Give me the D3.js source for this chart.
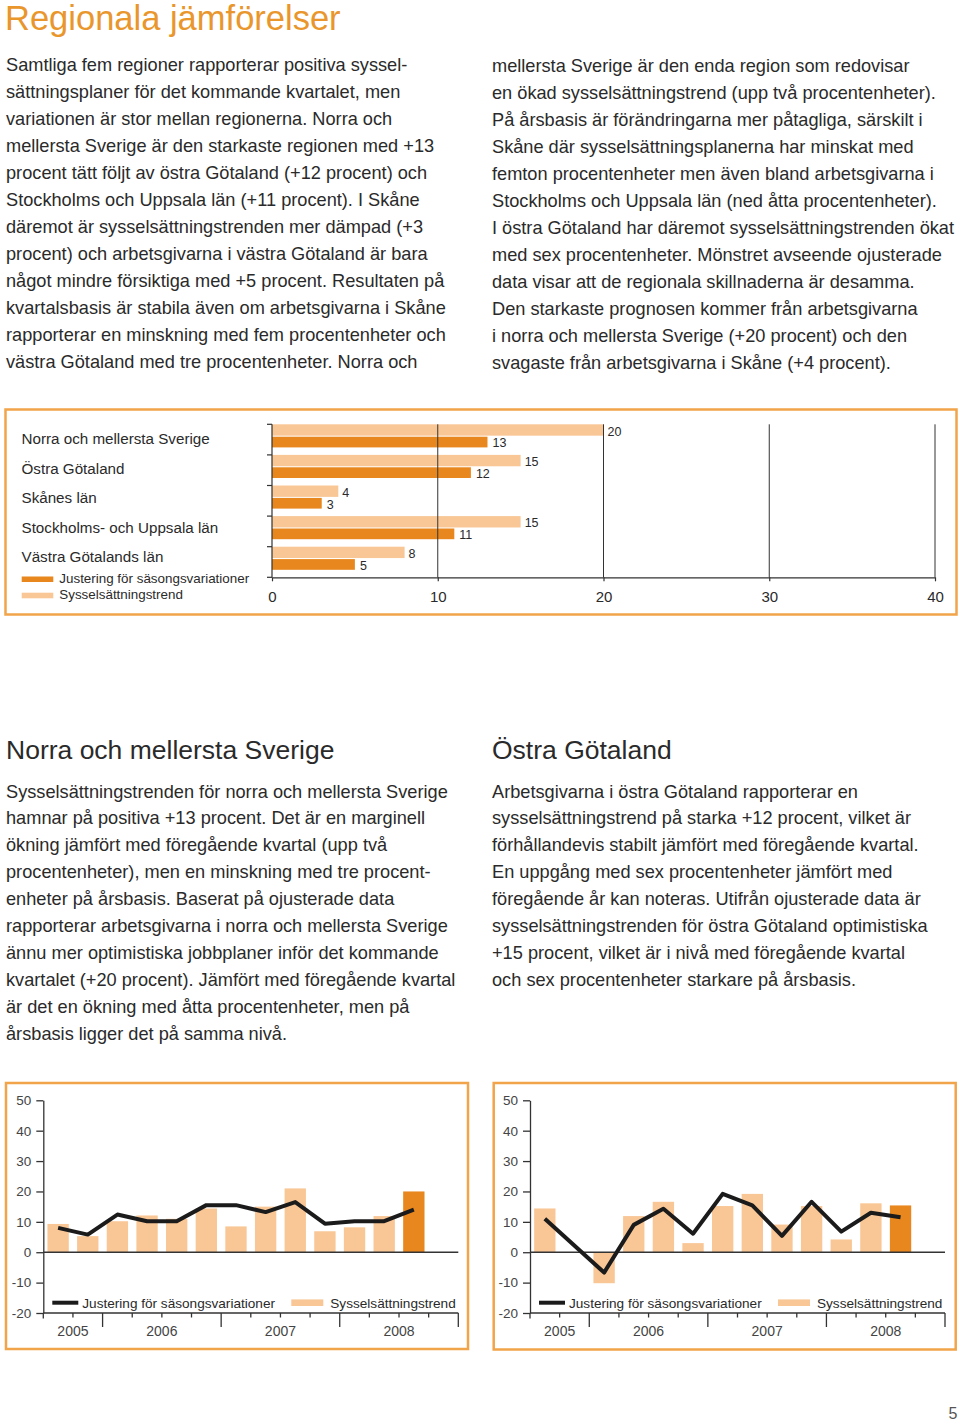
<!DOCTYPE html>
<html><head><meta charset="utf-8">
<script src="https://cdn.jsdelivr.net/npm/d3@7"></script>
<style>html,body{margin:0;padding:0;background:#fff}svg{display:block}</style>
</head><body>
<script>
// ---------- data ----------
const regions = ["Norra och mellersta Sverige", "Östra Götaland", "Skånes län", "Stockholms- och Uppsala län", "Västra Götalands län"];
const regionTrend = [20, 15, 4, 15, 8];
const regionAdjusted = [13, 12, 3, 11, 5];
const regionTicks = [0, 10, 20, 30, 40];

const quarters = ["2005K3","2005K4","2006K1","2006K2","2006K3","2006K4","2007K1","2007K2","2007K3","2007K4","2008K1","2008K2","2008K3","2008K4"];
const years = ["2005", "2006", "2007", "2008"];
const norraTrend    = [9.3, 5.3, 10.2, 12.1, 11, 14.4, 8.5, 15, 21, 6.9, 8.2, 11.9, 20];
const norraAdjusted = [8, 5.8, 12.4, 10.2, 10.2, 15.5, 15.5, 13.2, 16.5, 9.4, 10.2, 10.2, 14];
const ostraTrend    = [14.4, null, -10.2, 11.9, 16.6, 3, 15.2, 19.2, 9.1, 15.2, 4.2, 16.1, 15.4];
const ostraAdjusted = [11, null, -6.7, 9, 14.3, 6.1, 19.2, 15.4, 5.4, 16.6, 6.8, 13, 11.5];
const lineTicks = [50, 40, 30, 20, 10, 0, -10, -20];

const legendAdjusted = "Justering för säsongsvariationer";
const legendTrend = "Sysselsättningstrend";

const pageTitle = "Regionala jämförelser";
const introLeft = [
  "Samtliga fem regioner rapporterar positiva syssel-",
  "sättningsplaner för det kommande kvartalet, men",
  "variationen är stor mellan regionerna. Norra och",
  "mellersta Sverige är den starkaste regionen med +13",
  "procent tätt följt av östra Götaland (+12 procent) och",
  "Stockholms och Uppsala län (+11 procent). I Skåne",
  "däremot är sysselsättningstrenden mer dämpad (+3",
  "procent) och arbetsgivarna i västra Götaland är bara",
  "något mindre försiktiga med +5 procent. Resultaten på",
  "kvartalsbasis är stabila även om arbetsgivarna i Skåne",
  "rapporterar en minskning med fem procentenheter och",
  "västra Götaland med tre procentenheter. Norra och"
];
const introRight = [
  "mellersta Sverige är den enda region som redovisar",
  "en ökad sysselsättningstrend (upp två procentenheter).",
  "På årsbasis är förändringarna mer påtagliga, särskilt i",
  "Skåne där sysselsättningsplanerna har minskat med",
  "femton procentenheter men även bland arbetsgivarna i",
  "Stockholms och Uppsala län (ned åtta procentenheter).",
  "I östra Götaland har däremot sysselsättningstrenden ökat",
  "med sex procentenheter. Mönstret avseende ojusterade",
  "data visar att de regionala skillnaderna är desamma.",
  "Den starkaste prognosen kommer från arbetsgivarna",
  "i norra och mellersta Sverige (+20 procent) och den",
  "svagaste från arbetsgivarna i Skåne (+4 procent)."
];
const norraTitle = "Norra och mellersta Sverige";
const norraText = [
  "Sysselsättningstrenden för norra och mellersta Sverige",
  "hamnar på positiva +13 procent. Det är en marginell",
  "ökning jämfört med föregående kvartal (upp två",
  "procentenheter), men en minskning med tre procent-",
  "enheter på årsbasis. Baserat på ojusterade data",
  "rapporterar arbetsgivarna i norra och mellersta Sverige",
  "ännu mer optimistiska jobbplaner inför det kommande",
  "kvartalet (+20 procent). Jämfört med föregående kvartal",
  "är det en ökning med åtta procentenheter, men på",
  "årsbasis ligger det på samma nivå."
];
const ostraTitle = "Östra Götaland";
const ostraText = [
  "Arbetsgivarna i östra Götaland rapporterar en",
  "sysselsättningstrend på starka +12 procent, vilket är",
  "förhållandevis stabilt jämfört med föregående kvartal.",
  "En uppgång med sex procentenheter jämfört med",
  "föregående år kan noteras. Utifrån ojusterade data är",
  "sysselsättningstrenden för östra Götaland optimistiska",
  "+15 procent, vilket är i nivå med föregående kvartal",
  "och sex procentenheter starkare på årsbasis."
];
const pageNumber = "5";

// ---------- style ----------
const FONT = "'Liberation Sans', Arial, Helvetica, sans-serif";
const C = {
  title: "#E9962C", text: "#2a2a2a", border: "#F1A449",
  light: "#F9C796", dark: "#E8871E", line: "#1b1b1b", axis: "#333"
};

const svg = d3.select("body").append("svg")
  .attr("width", 960).attr("height", 1421)
  .style("font-family", FONT);
svg.append("rect").attr("width", 960).attr("height", 1421).attr("fill", "#fff");

// ---------- text blocks ----------
svg.append("text").attr("x", 5).attr("y", 30).attr("font-size", 34.5)
  .attr("fill", C.title).text(pageTitle);

function para(lines, x, y0, lh, size) {
  svg.append("g").selectAll("text").data(lines).join("text")
    .attr("x", x).attr("y", (d, i) => y0 + i * lh)
    .attr("font-size", size).attr("fill", C.text).text(d => d);
}
para(introLeft, 6, 71, 27, 18.2);
para(introRight, 492, 71.5, 27, 18.2);
svg.append("text").attr("x", 6).attr("y", 759).attr("font-size", 26.5).attr("fill", C.text).text(norraTitle);
svg.append("text").attr("x", 492).attr("y", 759).attr("font-size", 26.5).attr("fill", C.text).text(ostraTitle);
para(norraText, 6, 797.5, 26.9, 18.2);
para(ostraText, 492, 797.5, 26.9, 18.2);
svg.append("text").attr("x", 953).attr("y", 1419).attr("text-anchor", "middle")
  .attr("font-size", 16).attr("fill", "#555").text(pageNumber);

// ---------- horizontal bar chart ----------
(function () {
  svg.append("rect").attr("x", 5.5).attr("y", 409.5).attr("width", 951).attr("height", 205)
    .attr("fill", "none").attr("stroke", C.border).attr("stroke-width", 2.5);
  const g = svg.append("g");
  const x = d3.scaleLinear().domain([0, 40]).range([272, 935]);
  const y = d3.scaleBand().domain(regions).range([424.3, 577.3]);
  const s = y.step();
  const rows = regions.map((r, i) => ({ r, t: regionTrend[i], a: regionAdjusted[i] }));

  g.selectAll("rect.t").data(rows).join("rect")
    .attr("x", x(0)).attr("y", d => y(d.r)).attr("width", d => x(d.t) - x(0)).attr("height", s * 0.372)
    .attr("fill", C.light);
  g.selectAll("rect.a").data(rows).join("rect")
    .attr("x", x(0)).attr("y", d => y(d.r) + s * 0.405).attr("width", d => x(d.a) - x(0)).attr("height", s * 0.35)
    .attr("fill", C.dark);

  // grid lines
  g.selectAll("line.grid").data(regionTicks.filter(t => t > 0)).join("line")
    .attr("x1", d => x(d)).attr("x2", d => x(d)).attr("y1", y.range()[0]).attr("y2", y.range()[1])
    .attr("stroke", C.axis).attr("stroke-width", 1);

  // value labels
  g.selectAll("text.t").data(rows).join("text")
    .attr("x", d => x(d.t) + 4).attr("y", d => y(d.r) + s * 0.372)
    .attr("font-size", 12.5).attr("fill", C.text).text(d => d.t);
  g.selectAll("text.a").data(rows).join("text")
    .attr("x", d => x(d.a) + 5).attr("y", d => y(d.r) + s * 0.755)
    .attr("font-size", 12.5).attr("fill", C.text).text(d => d.a);

  // y axis with band boundary ticks
  const bounds = regions.map(r => y(r)).concat([y.range()[1]]);
  g.append("line").attr("x1", x(0)).attr("x2", x(0)).attr("y1", y.range()[0]).attr("y2", y.range()[1])
    .attr("stroke", C.axis).attr("stroke-width", 1.2);
  g.selectAll("line.yt").data(bounds).join("line")
    .attr("x1", x(0) - 5).attr("x2", x(0)).attr("y1", d => d).attr("y2", d => d)
    .attr("stroke", C.axis).attr("stroke-width", 1.2);

  // x axis
  const xa = g.append("g").attr("transform", `translate(0,${y.range()[1]})`)
    .call(d3.axisBottom(x).tickValues(regionTicks).tickSize(4).tickSizeOuter(0).tickPadding(10).tickFormat(d => d));
  xa.selectAll("path,line").attr("stroke", C.axis).attr("stroke-width", 1.2);
  xa.selectAll("text").attr("font-size", 15).attr("fill", C.text).attr("font-family", FONT);

  // category labels
  const ly = d3.scalePoint().domain(regions).range([444, 562]);
  g.selectAll("text.cat").data(regions).join("text")
    .attr("x", 21.5).attr("y", d => ly(d)).attr("font-size", 15.2).attr("fill", C.text).text(d => d);

  // legend
  g.append("rect").attr("x", 21.7).attr("y", 576.5).attr("width", 31.6).attr("height", 5.5).attr("fill", C.dark);
  g.append("text").attr("x", 59.3).attr("y", 582.5).attr("font-size", 13.4).attr("fill", C.text).text(legendAdjusted);
  g.append("rect").attr("x", 21.7).attr("y", 592.7).attr("width", 31.6).attr("height", 5.6).attr("fill", C.light);
  g.append("text").attr("x", 59.3).attr("y", 599.3).attr("font-size", 13.4).attr("fill", C.text).text(legendTrend);
})();

// ---------- quarterly charts ----------
function quarterly(cfg) {
  svg.append("rect").attr("x", cfg.box[0]).attr("y", cfg.box[1]).attr("width", cfg.box[2]).attr("height", cfg.box[3])
    .attr("fill", "none").attr("stroke", C.border).attr("stroke-width", 2.5);
  const g = svg.append("g");
  const x = d3.scaleBand().domain(quarters).range([cfg.x0, cfg.x1]).paddingInner(0.28).paddingOuter(0.14);
  const y = d3.scaleLinear().domain([-20, 50]).range([1313, 1100.3]);
  const st = x.step(), bw = x.bandwidth(), off = st * 0.14;
  const pts = cfg.trend.map((v, i) => ({ q: quarters[i], t: v, a: cfg.adj[i], last: i === cfg.trend.length - 1 }));

  g.selectAll("rect.bar").data(pts.filter(d => d.t != null)).join("rect")
    .attr("x", d => x(d.q)).attr("width", bw)
    .attr("y", d => y(Math.max(0, d.t))).attr("height", d => Math.abs(y(d.t) - y(0)))
    .attr("fill", d => d.last ? C.dark : C.light);

  // zero line
  g.append("line").attr("x1", cfg.x0).attr("x2", cfg.x1).attr("y1", y(0)).attr("y2", y(0))
    .attr("stroke", C.axis).attr("stroke-width", 1.3);

  // adjusted line
  const ln = d3.line().x(d => x(d.q) + bw / 2).y(d => y(d.a));
  g.append("path").datum(pts.filter(d => d.a != null)).attr("d", ln)
    .attr("fill", "none").attr("stroke", C.line).attr("stroke-width", 4).attr("stroke-linejoin", "round");

  // y axis
  const ya = g.append("g").attr("transform", `translate(${cfg.x0},0)`)
    .call(d3.axisLeft(y).tickValues(lineTicks).tickSize(7).tickSizeOuter(0).tickPadding(5).tickFormat(d => String(d)));
  ya.selectAll("path,line").attr("stroke", C.axis).attr("stroke-width", 1.3);
  ya.selectAll("text").attr("font-size", 13.5).attr("fill", "#444").attr("font-family", FONT);

  // x axis with quarter boundary ticks
  g.append("line").attr("x1", cfg.x0).attr("x2", cfg.x1).attr("y1", y(-20)).attr("y2", y(-20))
    .attr("stroke", C.axis).attr("stroke-width", 1.3);
  const yearStart = q => years.some(yr => q === yr + "K1");
  const bnds = quarters.map((q, i) => ({ x: x(q) - off, major: yearStart(q), first: i === 0 }))
    .concat([{ x: x(quarters[quarters.length - 1]) + bw + off, major: true }]);
  g.selectAll("line.xt").data(bnds).join("line")
    .attr("x1", d => d.x).attr("x2", d => d.x).attr("y1", y(-20))
    .attr("y2", d => y(-20) + (d.major ? 14 : (d.first ? 5.5 : 4.5)))
    .attr("stroke", C.axis).attr("stroke-width", 1.3);

  // year labels
  g.selectAll("text.yr").data(years).join("text")
    .attr("x", yr => {
      const qs = quarters.filter(q => q.startsWith(yr));
      return (x(qs[0]) - off + x(qs[qs.length - 1]) + bw + off) / 2;
    })
    .attr("y", 1335.5).attr("text-anchor", "middle").attr("font-size", 14).attr("fill", "#444").text(d => d);

  // legend
  const ly = 1302.7;
  g.append("line").attr("x1", cfg.x0 + 9).attr("x2", cfg.x0 + 35).attr("y1", ly).attr("y2", ly)
    .attr("stroke", C.line).attr("stroke-width", 4);
  g.append("text").attr("x", cfg.x0 + 39).attr("y", ly + 5).attr("font-size", 13.6).attr("fill", C.text).text(legendAdjusted);
  g.append("rect").attr("x", cfg.x0 + 248).attr("y", ly - 3.3).attr("width", 32).attr("height", 6.6).attr("fill", C.light);
  g.append("text").attr("x", cfg.x0 + 287).attr("y", ly + 5).attr("font-size", 13.6).attr("fill", C.text).text(legendTrend);
}

quarterly({ box: [6, 1083, 462, 266], x0: 43.3, x1: 458.3, trend: norraTrend, adj: norraAdjusted });
quarterly({ box: [493.7, 1083, 462, 266.5], x0: 530, x1: 945, trend: ostraTrend, adj: ostraAdjusted });
</script>
</body></html>
